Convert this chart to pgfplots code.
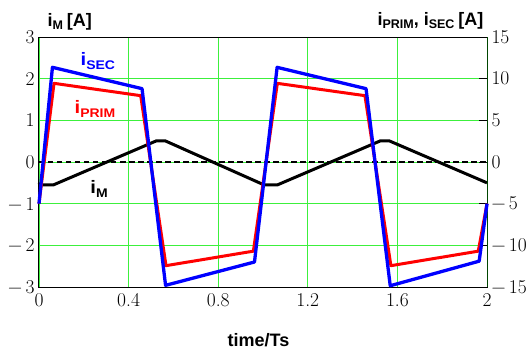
\documentclass[border=0pt]{standalone}
\usepackage{pgfplots}
\pgfplotsset{compat=1.18}
\usepackage{fontspec}
\newfontfamily\arial{Liberation Sans}
\definecolor{gridgreen}{RGB}{60,240,60}
\definecolor{darkgreen}{RGB}{0,70,0}
\newcommand{\lbl}[2]{{\arial\bfseries\fontsize{18}{18}\selectfont #1\raisebox{-0.4ex}{\fontsize{12.5}{13}\selectfont #2}}}
\newcommand{\tl}[1]{\mbox{\rmfamily\fontsize{19.5}{20}\selectfont #1}}
\begin{document}
\begin{tikzpicture}
\path[use as bounding box] (-39pt,-67pt) rectangle (488pt,287pt);
\pgfplotsset{common/.style={at={(0pt,0pt)}, anchor=south west, scale only axis,
  width=448pt, height=250pt, xmin=0, xmax=2,
  clip=false}}
\begin{axis}[common, ymin=-3, ymax=3,
  ytick={-3,-2,-1,0,1,2,3},
  yticklabels={\tl{−\,3},\tl{−\,2},\tl{−\,1},\tl{0},\tl{1},\tl{2},\tl{3}},
  xtick={0,0.4,0.8,1.2,1.6,2},
  xticklabels={\tl{0},\tl{0.4},\tl{0.8},\tl{1.2},\tl{1.6},\tl{2}},
  grid=major, grid style={gridgreen, line width=0.9pt},
  major tick length=0pt,
  axis line style={black, line width=1pt},
  xticklabel style={yshift=-3pt},
  yticklabel style={xshift=-1pt}]
\addplot[black, line width=1.6pt, dash pattern=on 5.5pt off 3.5pt] coordinates {(0,0) (2,0)};
\addplot[black, line width=3pt, line join=round] coordinates {
(0,-0.5) (0.005,-0.55) (0.064,-0.55) (0.525,0.51) (0.5625,0.51)
(1.005,-0.55) (1.064,-0.55) (1.525,0.51) (1.5625,0.51) (2,-0.5)};
\node[anchor=base west] at ([xshift=5pt,yshift=11pt]rel axis cs:0,1) {\lbl{i}{M}\hspace{4pt}\lbl{[A]}{}};
\node[anchor=base east] at ([xshift=0pt,yshift=12pt]rel axis cs:1,1) {\lbl{i}{PRIM}\lbl{, i}{SEC}\hspace{4pt}\lbl{[A]}{}};
\node[anchor=base] at ([yshift=-59pt]rel axis cs:0.49,0) {\lbl{time/Ts}{}};
\node[anchor=center] at (axis cs:0.263,2.42) {\color{blue}\scalebox{1.12}[1]{\lbl{i}{SEC}}};
\node[anchor=center] at (axis cs:0.25,1.27) {\color{red}\scalebox{1.12}[1]{\lbl{i}{PRIM}}};
\node[anchor=center] at (axis cs:0.268,-0.65) {\scalebox{1.12}[1]{\lbl{i}{M}}};
\end{axis}
\begin{axis}[common, ymin=-15, ymax=15,
  axis x line=none, axis y line*=right,
  ytick={-15,-10,-5,0,5,10,15},
  yticklabels={\tl{−\,15},\tl{−\,10},\tl{−\,5},\tl{0},\tl{5},\tl{10},\tl{15}},
  yticklabel style={anchor=west, xshift=1pt},
  y axis line style={darkgreen, line width=1pt},
  major tick length=8pt,
  ytick style={black, line width=1pt},
  tick align=inside]
\addplot[red, line width=3pt, line join=round] coordinates {
(0,-5) (0.067,9.44) (0.454,7.96) (0.567,-12.44) (0.957,-10.7)
(1.064,9.44) (1.455,7.96) (1.571,-12.44) (1.961,-10.7) (2,-5)};
\addplot[blue, line width=3.3pt, line join=round] coordinates {
(0,-5) (0.06,11.36) (0.46,8.8) (0.565,-14.8) (0.962,-12.0)
(1.063,11.36) (1.46,8.8) (1.568,-14.85) (1.965,-11.9) (2,-5)};
\end{axis}
\end{tikzpicture}
\end{document}
